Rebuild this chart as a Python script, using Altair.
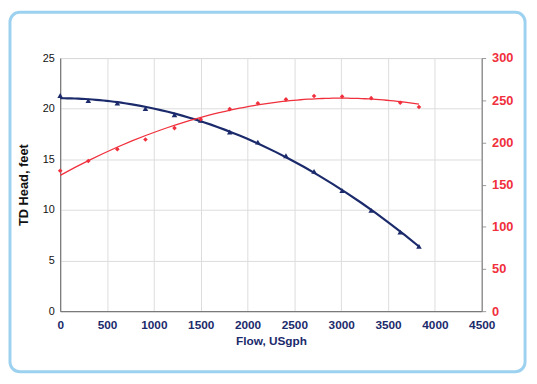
import altair as alt
import pandas as pd

flow = [0, 300, 610, 910, 1220, 1500, 1810, 2110, 2410, 2710, 3010, 3320, 3630, 3830]
head = [21.3, 20.8, 20.55, 20.0, 19.4, 18.85, 17.7, 16.7, 15.35, 13.8, 11.9, 9.95, 7.8, 6.4]
second = [166.5, 178, 192, 203.5, 217, 227.5, 239.5, 246.5, 251, 255, 254.5, 252.5, 247, 242]

x_ticks = list(range(0, 4501, 500))
left_ticks = [0, 5, 10, 15, 20, 25]
right_ticks = [0, 50, 100, 150, 200, 250, 300]

NAVY = "#1b2a6b"
RED = "#f0303c"
FONT = "Liberation Sans"

df = pd.DataFrame({"flow": flow, "head": head, "second": second})

xscale = alt.Scale(domain=[0, 4500], nice=False, zero=False)
xaxis = alt.Axis(values=x_ticks, format="d", title="Flow, USgph", labelColor=NAVY, titleColor=NAVY,
                 labelFontWeight="bold", labelFontSize=12, titleFontSize=12,
                 titleFontWeight="bold", labelPadding=9, titlePadding=5,
                 grid=True, gridColor="#dcdcdc", domainColor="#666666", ticks=False,
                 labelFont=FONT, titleFont=FONT, labelFlush=False)

yl = alt.Y("head:Q", scale=alt.Scale(domain=[0, 25], nice=False),
           axis=alt.Axis(values=left_ticks, title="TD Head, feet", labelColor="#111111",
                         labelFontSize=11, titleFontSize=13, titleFontWeight="bold",
                         titleColor="#111111", labelPadding=6, titlePadding=12,
                         grid=True, gridColor="#dcdcdc", domainColor="#666666", ticks=False,
                         labelFont=FONT, titleFont=FONT))
yr = alt.Y("second:Q", scale=alt.Scale(domain=[0, 300], nice=False),
           axis=alt.Axis(values=right_ticks, title=None, orient="right", labelColor=RED,
                         labelFontWeight="bold", labelFontSize=13, labelPadding=6,
                         grid=False, domainColor="#777777", tickColor="#999999", tickSize=4,
                         labelFont=FONT))

base = alt.Chart(df)

blue_pts = base.mark_point(shape="triangle-up", filled=True, size=32, color=NAVY, opacity=1).encode(
    x=alt.X("flow:Q", scale=xscale, axis=xaxis), y=yl)
blue_line = base.transform_regression("flow", "head", method="poly", order=2).mark_line(
    color=NAVY, strokeWidth=2.2).encode(x=alt.X("flow:Q", scale=xscale, axis=xaxis), y=yl)

red_pts = base.mark_point(shape="diamond", filled=True, size=22, color=RED, opacity=1).encode(
    x=alt.X("flow:Q", scale=xscale, axis=xaxis), y=yr)
red_line = base.transform_regression("flow", "second", method="poly", order=2).mark_line(
    color=RED, strokeWidth=1.3).encode(x=alt.X("flow:Q", scale=xscale, axis=xaxis), y=yr)

frame = alt.Chart(pd.DataFrame({"a": [0]})).mark_rect(
    filled=False, stroke="#9dd1f0", strokeWidth=3, cornerRadius=10).encode(
    x=alt.value(-51), x2=alt.value(472), y=alt.value(-46.5), y2=alt.value(318.5))

chart = alt.layer(
    frame,
    alt.layer(blue_line, blue_pts),
    alt.layer(red_line, red_pts),
).resolve_scale(y="independent").properties(
    width=428, height=257,
    padding={"left": 53, "top": 48, "right": 48, "bottom": 63},
    autosize=alt.AutoSizeParams(type="none"),
    background="white",
).configure_view(stroke="#bbbbbb", strokeWidth=1)

chart.save("out.html", embed_options={"renderer": "svg", "actions": False})
